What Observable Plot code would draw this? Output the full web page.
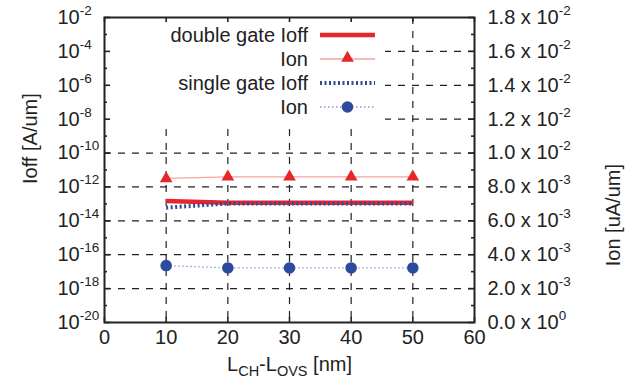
<!DOCTYPE html>
<html><head><meta charset="utf-8">
<script src="https://cdn.jsdelivr.net/npm/d3@7"></script>
<script src="https://cdn.jsdelivr.net/npm/@observablehq/plot@0.6"></script>
<style>body{margin:0;background:#fff} svg{display:block}</style>
</head><body><div id="chart"></div>
<script>
// ---- data ----
const lengths = [10, 20, 30, 40, 50];                       // L_CH - L_OVS [nm]
const dgIoff  = [1.5e-13, 1.15e-13, 1.15e-13, 1.15e-13, 1.15e-13]; // double gate Ioff [A/um]
const sgIoff  = [6e-14, 1.05e-13, 1.05e-13, 1.05e-13, 1.05e-13];   // single gate Ioff [A/um]
const dgIon   = [0.0085, 0.0086, 0.0086, 0.0086, 0.0086];   // double gate Ion [uA/um]
const sgIon   = [0.00336, 0.00322, 0.00322, 0.00322, 0.00322]; // single gate Ion [uA/um]

// ---- axes / ticks ----
const xTicks = [0, 10, 20, 30, 40, 50, 60];
const leftMajorExps = [-2, -4, -6, -8, -10, -12, -14, -16, -18, -20];
const leftMinorExps = [-3, -5, -7, -9, -11, -13, -15, -17, -19];
const rightTicks = [0, 0.002, 0.004, 0.006, 0.008, 0.010, 0.012, 0.014, 0.016, 0.018];
const rightMinor = [0.001, 0.003, 0.005, 0.007, 0.009, 0.011, 0.013, 0.015, 0.017];
const rightTickLabels = ["0.0 x 10^{0}", "2.0 x 10^{-3}", "4.0 x 10^{-3}", "6.0 x 10^{-3}", "8.0 x 10^{-3}",
  "1.0 x 10^{-2}", "1.2 x 10^{-2}", "1.4 x 10^{-2}", "1.6 x 10^{-2}", "1.8 x 10^{-2}"];
const legendLabels = ["double gate Ioff", "Ion", "single gate Ioff", "Ion"];
const xTitle = "L_{CH}-L_{OVS} [nm]";
const yTitle = "Ioff [A/um]";
const y2Title = "Ion [uA/um]";

const LOGMIN = -20, LOGMAX = -2, Y2MAX = 0.018;
// map the right (linear) axis onto the left (log) scale
const ionToY = v => Math.pow(10, LOGMIN + (LOGMAX - LOGMIN) * v / Y2MAX);

const rows = lengths.map((L, i) => ({L, dgIoff: dgIoff[i], sgIoff: sgIoff[i], dgIon: dgIon[i], sgIon: sgIon[i]}));

const RED = "#e5262b", BLUE = "#2e4a9c", INK = "#222";
const gridStyle = {stroke: INK, strokeWidth: 1.2, strokeDasharray: "7,7"};
const tickStyle = {stroke: INK, strokeWidth: 1.6};

const chart = Plot.plot({
  width: 638, height: 387,
  marginLeft: 104, marginRight: 164, marginTop: 17, marginBottom: 65,
  style: {fontFamily: "'Liberation Sans', Arial, sans-serif", fontSize: "20px", color: INK, background: "#fff"},
  x: {domain: [0, 60], axis: null},
  y: {type: "log", domain: [1e-20, 1e-2], axis: null},
  marks: [
    Plot.ruleX(xTicks.slice(1, -1), {x: d => d, ...gridStyle}),
    Plot.ruleY(rightTicks.slice(1, -1), {y: ionToY, ...gridStyle}),
    // data
    Plot.line(rows, {x: "L", y: "dgIoff", stroke: RED, strokeWidth: 4.5, strokeLinecap: "butt"}),
    Plot.line(rows, {x: "L", y: "sgIoff", stroke: BLUE, strokeWidth: 4, strokeDasharray: "2,2.5", strokeLinecap: "butt"}),
    Plot.line(rows, {x: "L", y: d => ionToY(d.dgIon), stroke: "#f6a3a3", strokeWidth: 1.3}),
    Plot.dot(rows, {x: "L", y: d => ionToY(d.dgIon), symbol: "triangle", r: 4.7, fill: RED}),
    Plot.line(rows, {x: "L", y: d => ionToY(d.sgIon), stroke: "#8d9cd8", strokeWidth: 1.3, strokeDasharray: "1.5,2.5", strokeLinecap: "butt"}),
    Plot.dot(rows, {x: "L", y: d => ionToY(d.sgIon), r: 5.8, fill: BLUE}),
    // inward ticks
    Plot.ruleY(leftMajorExps.map(e => Math.pow(10, e)), {y: d => d, x1: 0, x2: 0, insetRight: -6, ...tickStyle}),
    Plot.ruleY(leftMinorExps.map(e => Math.pow(10, e)), {y: d => d, x1: 0, x2: 0, insetRight: -3, ...tickStyle}),
    Plot.ruleY(rightTicks, {y: ionToY, x1: 60, x2: 60, insetLeft: -6, ...tickStyle}),
    Plot.ruleY(rightMinor, {y: ionToY, x1: 60, x2: 60, insetLeft: -3, ...tickStyle}),
    Plot.ruleX(xTicks, {x: d => d, y1: 1e-20, y2: 1e-20, insetTop: -5, ...tickStyle}),
    Plot.ruleX(xTicks, {x: d => d, y1: 1e-2, y2: 1e-2, insetBottom: -5, ...tickStyle}),
    Plot.frame({stroke: INK, strokeWidth: 2}),
    // tick labels
    Plot.text(leftMajorExps, {y: e => Math.pow(10, e), text: e => `10^{${e}}`, frameAnchor: "left", dx: -47, textAnchor: "start", fill: INK}),
    Plot.text(rightTicks, {y: ionToY, text: (d, i) => rightTickLabels[i], frameAnchor: "right", dx: 13, textAnchor: "start", fill: INK}),
    Plot.text(xTicks, {x: d => d, text: d => String(d), frameAnchor: "bottom", dy: 21, fill: INK}),
    // axis titles
    Plot.text([yTitle], {text: d => d, frameAnchor: "left", dx: -74, dy: 14, rotate: -90, fill: INK}),
    Plot.text([y2Title], {text: d => d, frameAnchor: "right", dx: 139, dy: -6, rotate: -90, fill: INK}),
    Plot.text([xTitle], {text: d => d, frameAnchor: "bottom", dy: 48, fill: INK})
  ]
});

// rich text: ^{...} superscript, _{...} subscript
function richify(svg) {
  svg.querySelectorAll("text").forEach(t => {
    const s = t.textContent;
    if (!/[\^_]\{/.test(s)) return;
    t.textContent = "";
    let cur = 0, m;
    const re = /([\^_])\{([^}]*)\}|([^\^_]+)/g;
    while ((m = re.exec(s))) {
      const ts = document.createElementNS("http://www.w3.org/2000/svg", "tspan");
      let target = 0, txt;
      if (m[1]) {
        target = m[1] === "^" ? -9 : 5;
        txt = m[2];
        ts.setAttribute("font-size", m[1] === "^" ? "13.5" : "14.5");
      } else txt = m[3];
      if (target !== cur) ts.setAttribute("dy", target - cur);
      cur = target;
      ts.textContent = txt;
      t.appendChild(ts);
    }
  });
}
richify(chart);

// legend (opaque key box over the grid, under the data and frame)
const markGroups = Array.from(chart.children).filter(n => n.tagName.toLowerCase() === "g");
const key = d3.create("svg:g").attr("aria-label", "legend");
key.append("rect").attr("x", 105).attr("y", 18).attr("width", 280).attr("height", 105).attr("fill", "#fff");
const rowY = [35, 59, 83, 107];
const textX = 308, s0 = 320, s1 = 375, sm = 347.5;
legendLabels.forEach((lab, i) => {
  key.append("text").attr("x", textX).attr("y", rowY[i]).attr("dy", "0.35em")
    .attr("text-anchor", "end").attr("fill", INK).attr("font-size", 20).text(lab);
});
key.append("line").attr("x1", s0).attr("x2", s1).attr("y1", rowY[0]).attr("y2", rowY[0]).attr("stroke", RED).attr("stroke-width", 4.5);
key.append("line").attr("x1", s0).attr("x2", s1).attr("y1", rowY[1]).attr("y2", rowY[1]).attr("stroke", "#f6a3a3").attr("stroke-width", 1.3);
key.append("path").attr("d", d3.symbol(d3.symbolTriangle, Math.PI * 4.7 * 4.7)()).attr("transform", `translate(${sm},${rowY[1] - 1})`).attr("fill", RED);
key.append("line").attr("x1", s0).attr("x2", s1).attr("y1", rowY[2]).attr("y2", rowY[2]).attr("stroke", BLUE).attr("stroke-width", 4).attr("stroke-dasharray", "2,2.5");
key.append("line").attr("x1", s0).attr("x2", s1).attr("y1", rowY[3]).attr("y2", rowY[3]).attr("stroke", "#8d9cd8").attr("stroke-width", 1.3).attr("stroke-dasharray", "1.5,2.5");
key.append("circle").attr("cx", sm).attr("cy", rowY[3]).attr("r", 5.8).attr("fill", BLUE);
if (markGroups.length > 2) markGroups[1].after(key.node());
else chart.appendChild(key.node());

document.getElementById("chart").appendChild(chart);
</script>
</body></html>
